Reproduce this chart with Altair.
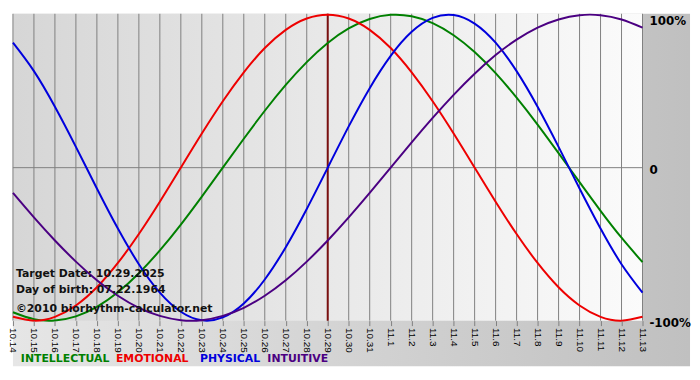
import altair as alt
import pandas as pd

# ---- data ----
days = ["10.14", "10.15", "10.16", "10.17", "10.18", "10.19", "10.20", "10.21",
        "10.22", "10.23", "10.24", "10.25", "10.26", "10.27", "10.28", "10.29",
        "10.30", "10.31", "11.1", "11.2", "11.3", "11.4", "11.5", "11.6",
        "11.7", "11.8", "11.9", "11.10", "11.11", "11.12", "11.13"]
target_day = "10.29"

series_names = ["INTELLECTUAL", "EMOTIONAL", "PHYSICAL", "INTUITIVE"]
series_colors = ["#008000", "#ee0000", "#0000dd", "#4b0082"]

intellectual = [-0.945, -0.990, -0.999, -0.972, -0.910, -0.815, -0.690, -0.541,
                -0.372, -0.189, 0.000, 0.189, 0.372, 0.541, 0.690, 0.815,
                0.910, 0.972, 0.999, 0.990, 0.945, 0.866, 0.756, 0.618,
                0.458, 0.282, 0.095, -0.095, -0.282, -0.458, -0.618]
emotional = [-0.975, -1.000, -0.975, -0.901, -0.782, -0.623, -0.434, -0.223,
             0.000, 0.223, 0.434, 0.623, 0.782, 0.901, 0.975, 1.000,
             0.975, 0.901, 0.782, 0.623, 0.434, 0.223, 0.000, -0.223,
             -0.434, -0.623, -0.782, -0.901, -0.975, -1.000, -0.975]
physical = [0.817, 0.631, 0.398, 0.136, -0.136, -0.398, -0.631, -0.817,
            -0.942, -0.998, -0.979, -0.888, -0.731, -0.520, -0.270, 0.000,
            0.270, 0.520, 0.731, 0.888, 0.979, 0.998, 0.942, 0.817,
            0.631, 0.398, 0.136, -0.136, -0.398, -0.631, -0.817]
intuitive = [-0.165, -0.325, -0.476, -0.614, -0.736, -0.837, -0.916, -0.969,
             -0.997, -0.997, -0.969, -0.916, -0.837, -0.736, -0.614, -0.476,
             -0.325, -0.165, 0.000, 0.165, 0.325, 0.476, 0.614, 0.736,
             0.837, 0.916, 0.969, 0.997, 0.997, 0.969, 0.916]

right_values = [1, 0, -1]
right_labels = ["100%", "0", "-100%"]

info_lines = ["Target Date: 10.29.2025", "Day of birth: 07.22.1964",
              "\u00a92010 biorhythm-calculator.net"]

# ---- build tables ----
rows = []
for name, vals in zip(series_names, [intellectual, emotional, physical, intuitive]):
    for d, v in zip(days, vals):
        rows.append({"day": d, "v": v, "series": name})
df = pd.DataFrame(rows)

W, H = 636, 310
BOLD = "DejaVu Sans"

xenc = alt.X(
    "day:O",
    sort=days,
    scale=alt.Scale(type="point", domain=days, padding=0),
    axis=alt.Axis(title=None, labelAngle=90, labelFont="Liberation Sans",
                  labelFontSize=10, labelColor="#000000", tickColor="#808080",
                  tickSize=5, tickWidth=1, domain=False, grid=False,
                  labelPadding=2, labelOverlap=False, zindex=1),
)
yscale = alt.Scale(domain=[-1.0, 1.006], nice=False, zero=False)

one = pd.DataFrame({"a": [0]})

outer_bg = alt.Chart(one).mark_rect(
    color={"gradient": "linear", "x1": 0, "y1": 0, "x2": 1, "y2": 0,
           "stops": [{"offset": 0, "color": "#e6e6e6"},
                     {"offset": 1, "color": "#c0c0c0"}]}
).encode(x=alt.value(0), x2=alt.value(W + 48), y=alt.value(0), y2=alt.value(H + 46))

plot_bg = alt.Chart(one).mark_rect(
    color={"gradient": "linear", "x1": 0, "y1": 0, "x2": 1, "y2": 0,
           "stops": [{"offset": 0, "color": "#d6d6d6"},
                     {"offset": 1, "color": "#fbfbfb"}]}
).encode(x=alt.value(0), x2=alt.value(W), y=alt.value(0), y2=alt.value(H))

grid = alt.Chart(pd.DataFrame({"day": days})).mark_rule(
    color="#808080", strokeWidth=1).encode(x=xenc)

zero_line = alt.Chart(pd.DataFrame({"v": [0]})).mark_rule(
    color="#808080", strokeWidth=1).encode(y=alt.Y("v:Q", scale=yscale, axis=None))

target = alt.Chart(pd.DataFrame({"day": [target_day]})).mark_rule(
    color="#7a1010", strokeWidth=2).encode(x=xenc)

lines = alt.Chart(df).mark_line(strokeWidth=2, interpolate="natural").encode(
    x=xenc,
    y=alt.Y("v:Q", scale=yscale, axis=None),
    color=alt.Color("series:N", scale=alt.Scale(domain=series_names, range=series_colors),
                    legend=None),
)

rl = pd.DataFrame({"v": right_values, "label": right_labels})
right_top = alt.Chart(rl.iloc[:1]).mark_text(
    align="left", baseline="top", dy=1, font=BOLD, fontWeight="bold",
    fontSize=12, color="#000000").encode(
    x=alt.value(W + 7), y=alt.Y("v:Q", scale=yscale, axis=None), text="label:N")
right_rest = alt.Chart(rl.iloc[1:]).mark_text(
    align="left", baseline="middle", dy=2, font=BOLD, fontWeight="bold",
    fontSize=12, color="#000000").encode(
    x=alt.value(W + 7), y=alt.Y("v:Q", scale=yscale, axis=None), text="label:N")

info_y = [263, 279, 298]
info = [
    alt.Chart(one).mark_text(align="left", baseline="middle", font=BOLD,
                             fontWeight="bold", fontSize=11, color="#111111",
                             text=t).encode(x=alt.value(3), y=alt.value(yy))
    for t, yy in zip(info_lines, info_y)
]

legend_x = [8, 104, 189, 257]
legend = [
    alt.Chart(one).mark_text(align="left", baseline="middle", font=BOLD,
                             fontWeight="bold", fontSize=11, color=c,
                             text=n).encode(x=alt.value(lx), y=alt.value(H + 39))
    for n, c, lx in zip(series_names, series_colors, legend_x)
]

chart = alt.layer(
    outer_bg, plot_bg, grid, zero_line, target, lines, right_top, right_rest,
    *info, *legend
).properties(width=W, height=H, padding=0, background="#ffffff").configure_view(stroke=None)

chart.save("out.html", embed_options={"renderer": "svg", "actions": False})
